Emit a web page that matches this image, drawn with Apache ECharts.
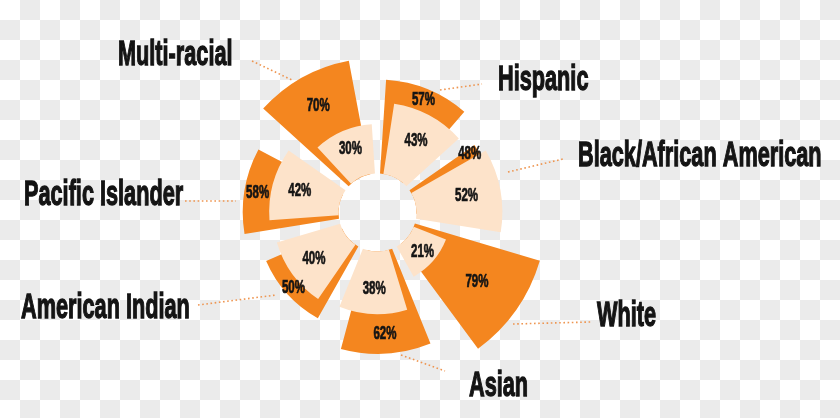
<!DOCTYPE html>
<html>
<head>
<meta charset="utf-8">
<script src="https://cdn.jsdelivr.net/npm/echarts@6/dist/echarts.min.js"></script>
<style>
  html, body { margin: 0; padding: 0; }
  body {
    width: 840px; height: 418px; overflow: hidden;
    background: repeating-conic-gradient(#ebebeb 0 25%, #ffffff 0 50%) 0 0 / 40px 40px;
  }
  #chart { width: 840px; height: 418px; }
</style>
</head>
<body>
<div id="chart"></div>
<script>
// Share of each group, split into two parts per group
const categories = ['Hispanic', 'Black/African American', 'White', 'Asian', 'American Indian', 'Pacific Islander', 'Multi-racial'];
const outerShare = [57, 48, 79, 62, 50, 58, 70];   // orange sectors
const innerShare = [43, 52, 21, 38, 40, 42, 30];   // pale sectors

const ORANGE = '#f4861f';
const PALE = '#fde3ca';
const INK = '#141414';
const FONT = '"Liberation Sans", Arial, sans-serif';

const chart = echarts.init(document.getElementById('chart'), null, { renderer: 'canvas' });

// Two polar systems sharing centre and radius; the pale ring is turned a few
// degrees clockwise so each orange sector peeks out on its leading side.
const hidden = { axisLine: { show: false }, axisTick: { show: false }, axisLabel: { show: false }, splitLine: { show: false } };
function angleAxis(idx, start) {
  return Object.assign({ polarIndex: idx, type: 'category', data: categories, startAngle: start, clockwise: true, boundaryGap: true }, hidden);
}
function radiusAxis(idx) {
  return Object.assign({ polarIndex: idx, type: 'value', min: 0, max: 100 }, hidden);
}

chart.setOption({
  backgroundColor: 'transparent',
  animation: false,
  polar: [
    { center: [377.5, 212.5], radius: [39, 204] },
    { center: [377.5, 212.5], radius: [39, 204] }
  ],
  angleAxis: [angleAxis(0, 93.5), angleAxis(1, 87.5)],
  radiusAxis: [radiusAxis(0), radiusAxis(1)],
  series: [
    {
      name: 'outer', type: 'bar', coordinateSystem: 'polar', polarIndex: 0,
      data: outerShare, barWidth: '72%', z: 2,
      itemStyle: { color: ORANGE }, silent: true
    },
    {
      name: 'inner', type: 'bar', coordinateSystem: 'polar', polarIndex: 1,
      data: innerShare, barWidth: '75.8%', z: 3,
      itemStyle: { color: PALE }, silent: true
    }
  ]
});

// Value labels placed from the sector layout the library computed
const model = chart.getModel();
const outerData = model.getSeriesByIndex(0).getData();
const innerData = model.getSeriesByIndex(1).getData();

function pt(l, a, r) {
  return [l.cx + r * Math.cos(a), l.cy + r * Math.sin(a)];
}
function valueText(x, y, txt) {
  return {
    type: 'text', x: x, y: y, scaleX: 0.64, z: 10, silent: true,
    style: {
      text: txt, fill: INK, stroke: INK, lineWidth: 0.7,
      font: 'bold 18px ' + FONT, align: 'center', verticalAlign: 'middle'
    }
  };
}

const graphics = [];
categories.forEach(function (c, i) {
  const lo = outerData.getItemLayout(i);
  const li = innerData.getItemLayout(i);
  // pale label
  const ai = (li.startAngle + li.endAngle) / 2;
  const pi = pt(li, ai, li.r0 + 0.6 * (li.r - li.r0));
  graphics.push(valueText(pi[0], pi[1], innerShare[i] + '%'));
  // orange label: on the band beyond the pale sector, or on the visible side strip
  let po;
  if (lo.r > li.r + 8) {
    const ao = (lo.startAngle + lo.endAngle) / 2;
    po = pt(lo, ao, (lo.r + li.r) / 2);
  } else {
    const ao = (lo.startAngle + li.startAngle) / 2;
    po = pt(lo, ao, lo.r - 9);
  }
  graphics.push(valueText(po[0], po[1], outerShare[i] + '%'));
});

// Group names with dotted leaders
const names = [
  { t: 'Multi-racial', x: 118, y: 55, l: [252, 61, 292, 80] },
  { t: 'Hispanic', x: 498, y: 80, l: [440, 90, 482, 84] },
  { t: 'Black/African American', x: 578, y: 156, l: [508, 172, 563, 159] },
  { t: 'White', x: 597, y: 316, l: [513, 324, 591, 322] },
  { t: 'Asian', x: 469, y: 386, l: [401, 355, 445, 371] },
  { t: 'American Indian', x: 21, y: 308, l: [198, 305, 276, 295] },
  { t: 'Pacific Islander', x: 24, y: 195, l: [185, 201, 236, 201] }
];
names.forEach(function (n) {
  graphics.push({
    type: 'text', x: n.x, y: n.y, scaleX: 0.62, z: 10, silent: true,
    style: {
      text: n.t, fill: INK, stroke: INK, lineWidth: 1.3,
      font: 'bold 35px ' + FONT, align: 'left', verticalAlign: 'middle'
    }
  });
  graphics.push({
    type: 'line', z: 9, silent: true,
    shape: { x1: n.l[0], y1: n.l[1], x2: n.l[2], y2: n.l[3] },
    style: { stroke: '#ee9550', lineWidth: 1.6, lineDash: [1.6, 2.6] }
  });
});

chart.setOption({ graphic: graphics });
</script>
</body>
</html>
